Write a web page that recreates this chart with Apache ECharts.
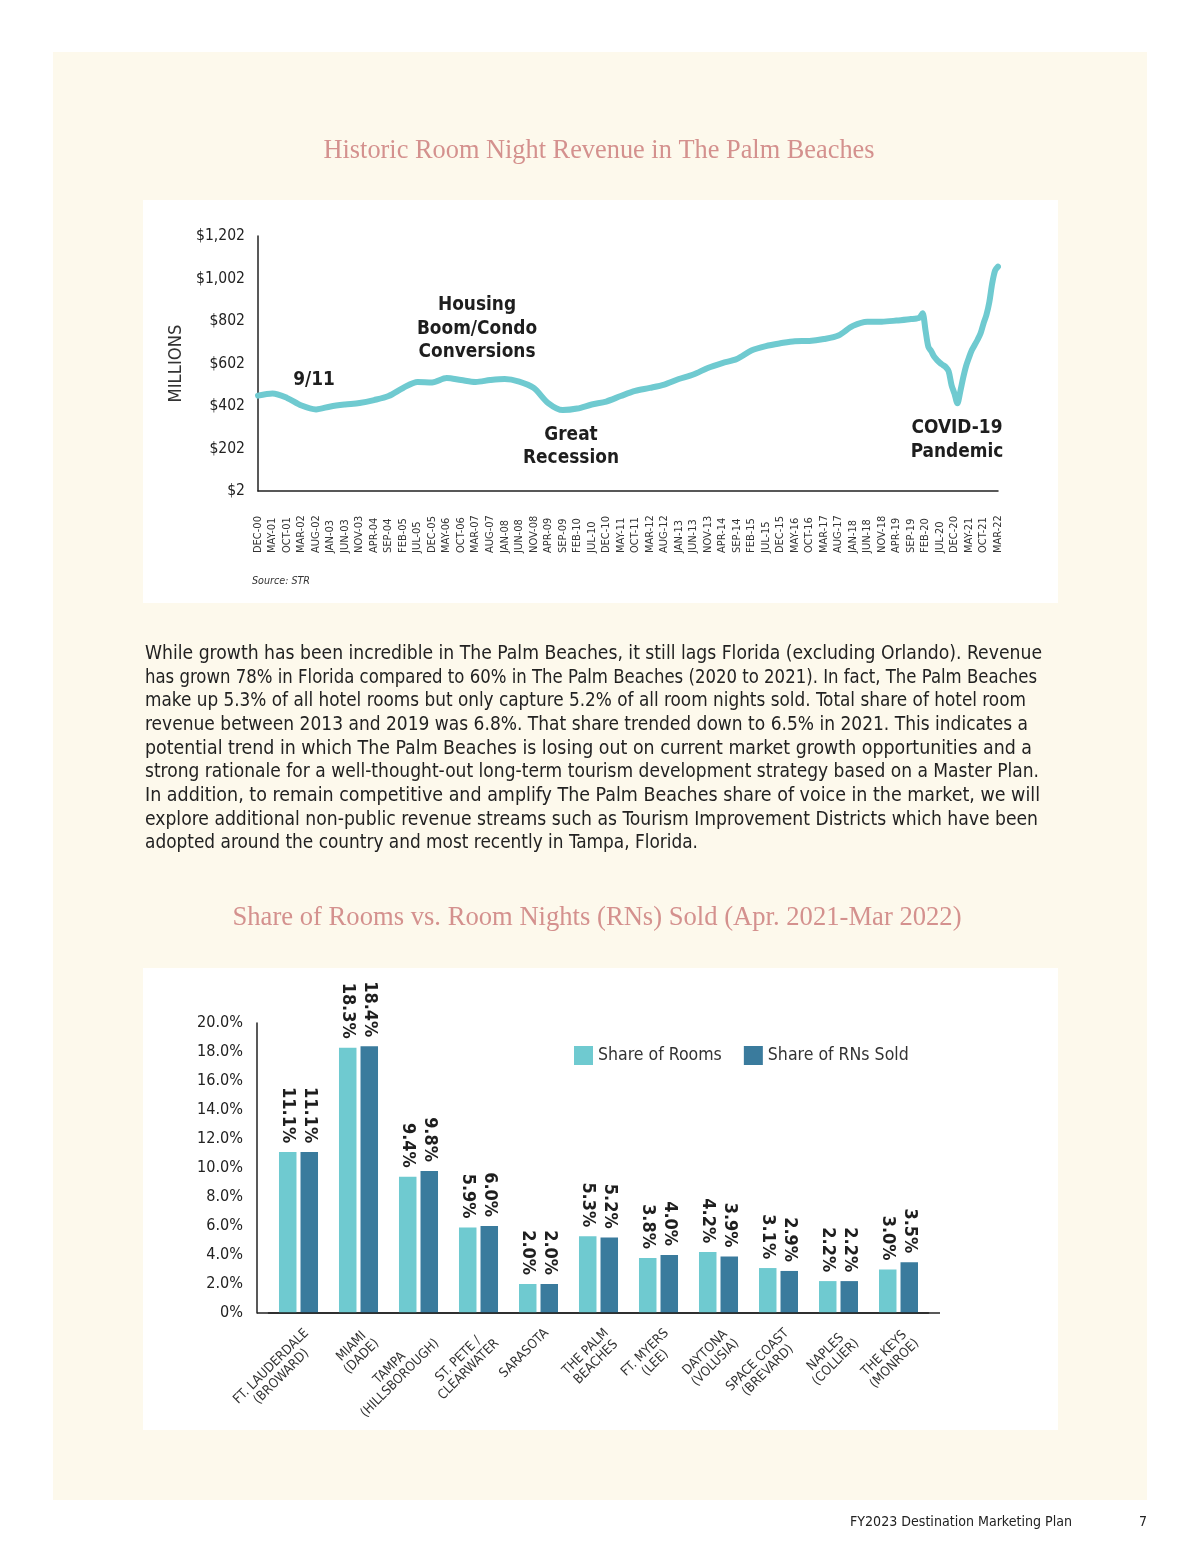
<!DOCTYPE html>
<html><head><meta charset="utf-8">
<script src="https://cdn.jsdelivr.net/npm/echarts@6/dist/echarts.min.js"></script>
<style>html,body{margin:0;padding:0;background:#fff;} #c{width:1200px;height:1553px;}</style>
</head><body><div id="c"></div>
<script>
// ---------- DATA ----------
const tickLabels = ['DEC-00','MAY-01','OCT-01','MAR-02','AUG-02','JAN-03','JUN-03','NOV-03','APR-04','SEP-04','FEB-05','JUL-05','DEC-05','MAY-06','OCT-06','MAR-07','AUG-07','JAN-08','JUN-08','NOV-08','APR-09','SEP-09','FEB-10','JUL-10','DEC-10','MAY-11','OCT-11','MAR-12','AUG-12','JAN-13','JUN-13','NOV-13','APR-14','SEP-14','FEB-15','JUL-15','DEC-15','MAY-16','OCT-16','MAR-17','AUG-17','JAN-18','JUN-18','NOV-18','APR-19','SEP-19','FEB-20','JUL-20','DEC-20','MAY-21','OCT-21','MAR-22'];

const revMonths = ['DEC-00','MAY-01','OCT-01','MAR-02','AUG-02','JAN-03','JUN-03','NOV-03','APR-04','SEP-04','FEB-05','JUL-05','DEC-05','MAY-06','OCT-06','MAR-07','AUG-07','JAN-08','JUN-08','NOV-08','APR-09','SEP-09','FEB-10','JUL-10','DEC-10','MAY-11','OCT-11','MAR-12','AUG-12','JAN-13','JUN-13','NOV-13','APR-14','SEP-14','FEB-15','JUL-15','DEC-15','MAY-16','OCT-16','MAR-17','AUG-17','JAN-18','JUN-18','NOV-18','APR-19','SEP-19',
  'NOV-19','DEC-19','JAN-20','FEB-20','MAR-20','APR-20','MAY-20','JUN-20','JUL-20','AUG-20','SEP-20','OCT-20','NOV-20','DEC-20','JAN-21','FEB-21','MAR-21','APR-21','MAY-21','JUN-21','JUL-21','AUG-21','SEP-21','OCT-21','NOV-21','DEC-21','JAN-22','FEB-22','MAR-22'];
const revValues = [451,461,440,404,386,400,409,416,430,449,487,515,513,534,524,515,524,529,517,487,416,383,390,409,423,449,473,487,503,529,550,581,604,623,663,684,697,707,708,717,734,779,799,799,804,811,
  814,818,838,760,681,660,634,618,605,595,585,565,500,460,415,470,535,590,630,665,690,715,744,790,830,890,979,1040,1058];

const markets = ['FT. LAUDERDALE\n(BROWARD)','MIAMI\n(DADE)','TAMPA\n(HILLSBOROUGH)','ST. PETE /\nCLEARWATER','SARASOTA','THE PALM\nBEACHES','FT. MYERS\n(LEE)','DAYTONA\n(VOLUSIA)','SPACE COAST\n(BREVARD)','NAPLES\n(COLLIER)','THE KEYS\n(MONROE)'];
const shareRooms = [11.1,18.3,9.4,5.9,2.0,5.3,3.8,4.2,3.1,2.2,3.0];
const shareRNs   = [11.1,18.4,9.8,6.0,2.0,5.2,4.0,3.9,2.9,2.2,3.5];

const paragraph = [
 'While growth has been incredible in The Palm Beaches, it still lags Florida (excluding Orlando). Revenue',
 'has grown 78% in Florida compared to 60% in The Palm Beaches (2020 to 2021). In fact, The Palm Beaches',
 'make up 5.3% of all hotel rooms but only capture 5.2% of all room nights sold. Total share of hotel room',
 'revenue between 2013 and 2019 was 6.8%. That share trended down to 6.5% in 2021. This indicates a',
 'potential trend in which The Palm Beaches is losing out on current market growth opportunities and a',
 'strong rationale for a well-thought-out long-term tourism development strategy based on a Master Plan.',
 'In addition, to remain competitive and amplify The Palm Beaches share of voice in the market, we will',
 'explore additional non-public revenue streams such as Tourism Improvement Districts which have been',
 'adopted around the country and most recently in Tampa, Florida.'
];
// measured widths of each paragraph line in the reference (px)
const paragraphWidths = [897, 892, 881, 883, 887, 894, 895, 893, 553];

// ---------- BUILD ----------
const MON = ['JAN','FEB','MAR','APR','MAY','JUN','JUL','AUG','SEP','OCT','NOV','DEC'];
const monthCats = [];
{ let y = 2000, m = 11;
  while (true) { const s = MON[m] + '-' + String(y % 100).padStart(2,'0'); monthCats.push(s); if (s === 'MAR-22') break; m++; if (m > 11) { m = 0; y++; } } }

const NARROW = '"Noto Sans Condensed", "DejaVu Sans Condensed", sans-serif';
const SERIF = '"Liberation Serif", "DejaVu Serif", serif';
const LIGHT = '#6fcad0', DARK = '#3a7b9d', TITLE = '#d4918e', INK = '#1e1e1e';

const ctx = document.createElement('canvas').getContext('2d');
function measure(text, weight, size, fam) { ctx.font = weight + ' ' + size + 'px ' + fam; return ctx.measureText(text).width; }
function fitSize(text, weight, fam, target, maxSize) { return Math.min(maxSize, 100 * target / measure(text, weight, 100, fam)); }
function fitText(text, weight, fam, target, maxSize) {
  const size = fitSize(text, weight, fam, target, maxSize);
  return {size, sx: target / measure(text, weight, size, fam)};
}

const yLab1 = fitSize('$1,202', 'normal', NARROW, 49, 19);
const yLab2 = fitSize('20.0%', 'normal', NARROW, 46, 19);
const xLab1 = fitSize('DEC-00', 'normal', NARROW, 37, 14);
const barLab = fitSize('11.1%', 'bold', NARROW, 56, 24);
const legLab = fitSize('Share of Rooms', 'normal', NARROW, 124, 20);
const catLab = fitSize('FT. LAUDERDALE', 'normal', NARROW, 100, 14);
const nameLab = fitSize('MILLIONS', 'normal', NARROW, 78, 20);
const annot = fitText('Conversions', 'bold', NARROW, 117, 25);
const foot = fitText('FY2023 Destination Marketing Plan', 'normal', NARROW, 222, 15.5);
const src = fitText('Source: STR', 'italic', NARROW, 58, 12.5);
const ttl1 = fitText('Historic Room Night Revenue in The Palm Beaches', 'normal', SERIF, 551, 29);
const ttl2 = fitText('Share of Rooms vs. Room Nights (RNs) Sold (Apr. 2021-Mar 2022)', 'normal', SERIF, 729, 29);
const paraSize = fitSize(paragraph[0], 'normal', NARROW, paragraphWidths[0], 20.5);

function txt(t, x, y, fit, weight, fam, align, fill, lh, z) {
  return {type: 'text', z: z || 1, x: x, y: y, scaleX: fit.sx, originX: 0, originY: 0,
    style: {text: t, x: 0, y: 0, textAlign: align, textVerticalAlign: 'middle', font: weight + ' ' + fit.size + 'px ' + fam, fill: fill, lineHeight: lh}};
}

const graphics = [
  {type:'rect', z:-10, shape:{x:53,y:52,width:1094,height:1448}, style:{fill:'#fdf9ec'}},
  {type:'rect', z:-9, shape:{x:143,y:200,width:915,height:403}, style:{fill:'#ffffff'}},
  {type:'rect', z:-9, shape:{x:143,y:968,width:915,height:462}, style:{fill:'#ffffff'}},
  txt('Historic Room Night Revenue in The Palm Beaches', 599, 151, ttl1, 'normal', SERIF, 'center', TITLE),
  txt('Share of Rooms vs. Room Nights (RNs) Sold (Apr. 2021-Mar 2022)', 597, 918, ttl2, 'normal', SERIF, 'center', TITLE),
  txt('9/11', 314, 380, annot, 'bold', NARROW, 'center', INK, 23.5, 10),
  txt('Housing\nBoom/Condo\nConversions', 477, 329, annot, 'bold', NARROW, 'center', INK, 23.5, 10),
  txt('Great\nRecession', 571, 447, annot, 'bold', NARROW, 'center', INK, 23, 10),
  txt('COVID-19\nPandemic', 957, 440, annot, 'bold', NARROW, 'center', INK, 24, 10),
  txt('Source: STR', 252, 581, src, 'italic', NARROW, 'left', '#333'),
  {type:'line', z:5, shape:{x1:257,y1:1313,x2:940,y2:1313}, style:{stroke:'#222', lineWidth:1.5}},
  txt('FY2023 Destination Marketing Plan', 850, 1522, foot, 'normal', NARROW, 'left', '#222'),
  txt('7', 1143, 1522, foot, 'normal', NARROW, 'center', '#222')
];
paragraph.forEach((t, i) => {
  const fit = {size: paraSize, sx: paragraphWidths[i] / measure(t, 'normal', paraSize, NARROW)};
  graphics.push(txt(t, 145, 654 + i * 23.65, fit, 'normal', NARROW, 'left', '#222'));
});

const barLabel = {show: true, position: 'top', rotate: -90, align: 'right', verticalAlign: 'middle', distance: 9,
  fontSize: barLab, fontWeight: 'bold', color: INK, fontFamily: NARROW, formatter: p => p.value.toFixed(1) + '%'};

const catLH = 14.5;
const option = {
  animation: false,
  backgroundColor: '#ffffff',
  textStyle: {fontFamily: NARROW},
  graphic: graphics,
  legend: {
    data: ['Share of Rooms','Share of RNs Sold'],
    left: 569, top: 1041, itemWidth: 19, itemHeight: 19, itemGap: 22, icon: 'rect',
    textStyle: {fontSize: legLab, color: '#333', fontFamily: NARROW}
  },
  grid: [
    {left: 258, top: 236, width: 740, height: 255},
    {left: 268.5, top: 1023, width: 660, height: 290},
    {left: 271.5, top: 1023, width: 660, height: 290}
  ],
  xAxis: [
    {gridIndex: 0, type: 'category', data: monthCats, boundaryGap: false,
     axisLine: {lineStyle: {color: '#222', width: 1.5}}, axisTick: {show: false},
     axisLabel: {interval: (i, v) => tickLabels.indexOf(v) >= 0, rotate: 90, align: 'left', verticalAlign: 'middle', margin: 62, fontSize: xLab1, color: '#333', fontFamily: NARROW}},
    {gridIndex: 1, type: 'category', data: markets,
     axisLine: {lineStyle: {color: '#222', width: 1.5}}, axisTick: {show: false}, axisLabel: {show: false}},
    {gridIndex: 2, type: 'category', data: markets,
     axisLine: {show: false}, axisTick: {show: false},
     axisLabel: {interval: 0, rotate: 45, margin: 13, align: 'right', verticalAlign: 'top', color: '#333', fontFamily: NARROW, fontSize: catLab, lineHeight: catLH,
       formatter: v => v.split('\n').map(s => '{a|' + s + '}').join('\n'),
       rich: {a: {align: 'center', fontSize: catLab, lineHeight: catLH, color: '#333', fontFamily: NARROW}}}}
  ],
  yAxis: [
    {gridIndex: 0, type: 'value', min: 2, max: 1202, interval: 200,
     name: 'MILLIONS', nameLocation: 'middle', nameGap: 57, nameTextStyle: {fontSize: nameLab, color: '#333', fontFamily: NARROW},
     axisLine: {show: true, lineStyle: {color: '#222', width: 1.5}}, axisTick: {show: false}, splitLine: {show: false},
     axisLabel: {margin: 13, fontSize: yLab1, color: '#222', fontFamily: NARROW, formatter: v => '$' + v.toLocaleString('en-US')}},
    {gridIndex: 1, type: 'value', min: 0, max: 20, interval: 2, offset: 11.5,
     axisLine: {show: true, lineStyle: {color: '#222', width: 1.5}}, axisTick: {show: false}, splitLine: {show: false},
     axisLabel: {margin: 14, fontSize: yLab2, color: '#222', fontFamily: NARROW, formatter: v => v === 0 ? '0%' : v.toFixed(1) + '%'}},
    {gridIndex: 2, type: 'value', show: false, min: 0, max: 20}
  ],
  series: [
    {type: 'line', xAxisIndex: 0, yAxisIndex: 0, data: revMonths.map((m, i) => [m, revValues[i]]),
     symbol: 'none', smooth: 0.3, lineStyle: {color: LIGHT, width: 6, cap: 'round', join: 'round'}, z: 3},
    {type: 'bar', name: 'Share of Rooms', xAxisIndex: 1, yAxisIndex: 1, data: shareRooms, barWidth: 17.5, barGap: '23%', itemStyle: {color: LIGHT}, label: barLabel},
    {type: 'bar', name: 'Share of RNs Sold', xAxisIndex: 1, yAxisIndex: 1, data: shareRNs, barWidth: 17.5, barGap: '23%', itemStyle: {color: DARK}, label: barLabel}
  ]
};
const chart = echarts.init(document.getElementById('c'), null, {renderer: 'canvas'});
chart.setOption(option);
</script></body></html>
